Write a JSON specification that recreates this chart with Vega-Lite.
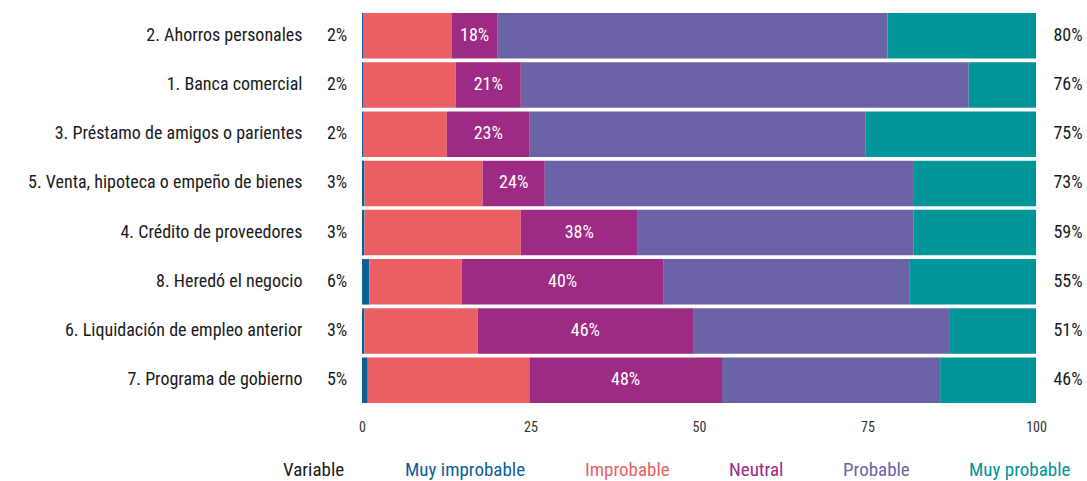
{
  "$schema": "https://vega.github.io/schema/vega-lite/v6.json",
  "autosize": {"type": "none"},
  "width": 674,
  "height": 394,
  "padding": {"left": 362, "top": 11, "right": 51, "bottom": 76},
  "background": "white",
  "config": {
    "view": {"stroke": null},
    "font": "Roboto Condensed, Noto Sans Condensed, Open Sans Condensed, DejaVu Sans Condensed, Liberation Sans Narrow, Liberation Sans"
  },
  "datasets": {
    "shares": [
      {"source": "2. Ahorros personales", "category": "Muy improbable", "rank": 1, "value": 0.25},
      {"source": "2. Ahorros personales", "category": "Improbable", "rank": 2, "value": 13.03},
      {"source": "2. Ahorros personales", "category": "Neutral", "rank": 3, "value": 6.86},
      {"source": "2. Ahorros personales", "category": "Probable", "rank": 4, "value": 57.82},
      {"source": "2. Ahorros personales", "category": "Muy probable", "rank": 5, "value": 22.04},
      {"source": "1. Banca comercial", "category": "Muy improbable", "rank": 1, "value": 0.25},
      {"source": "1. Banca comercial", "category": "Improbable", "rank": 2, "value": 13.64},
      {"source": "1. Banca comercial", "category": "Neutral", "rank": 3, "value": 9.67},
      {"source": "1. Banca comercial", "category": "Probable", "rank": 4, "value": 66.46},
      {"source": "1. Banca comercial", "category": "Muy probable", "rank": 5, "value": 9.98},
      {"source": "3. Préstamo de amigos o parientes", "category": "Muy improbable", "rank": 1, "value": 0.25},
      {"source": "3. Préstamo de amigos o parientes", "category": "Improbable", "rank": 2, "value": 12.32},
      {"source": "3. Préstamo de amigos o parientes", "category": "Neutral", "rank": 3, "value": 12.32},
      {"source": "3. Préstamo de amigos o parientes", "category": "Probable", "rank": 4, "value": 49.86},
      {"source": "3. Préstamo de amigos o parientes", "category": "Muy probable", "rank": 5, "value": 25.25},
      {"source": "5. Venta, hipoteca o empeño de bienes", "category": "Muy improbable", "rank": 1, "value": 0.36},
      {"source": "5. Venta, hipoteca o empeño de bienes", "category": "Improbable", "rank": 2, "value": 17.53},
      {"source": "5. Venta, hipoteca o empeño de bienes", "category": "Neutral", "rank": 3, "value": 9.23},
      {"source": "5. Venta, hipoteca o empeño de bienes", "category": "Probable", "rank": 4, "value": 54.77},
      {"source": "5. Venta, hipoteca o empeño de bienes", "category": "Muy probable", "rank": 5, "value": 18.11},
      {"source": "4. Crédito de proveedores", "category": "Muy improbable", "rank": 1, "value": 0.36},
      {"source": "4. Crédito de proveedores", "category": "Improbable", "rank": 2, "value": 23.2},
      {"source": "4. Crédito de proveedores", "category": "Neutral", "rank": 3, "value": 17.36},
      {"source": "4. Crédito de proveedores", "category": "Probable", "rank": 4, "value": 40.87},
      {"source": "4. Crédito de proveedores", "category": "Muy probable", "rank": 5, "value": 18.21},
      {"source": "8. Heredó el negocio", "category": "Muy improbable", "rank": 1, "value": 1.07},
      {"source": "8. Heredó el negocio", "category": "Improbable", "rank": 2, "value": 13.7},
      {"source": "8. Heredó el negocio", "category": "Neutral", "rank": 3, "value": 30.0},
      {"source": "8. Heredó el negocio", "category": "Probable", "rank": 4, "value": 36.41},
      {"source": "8. Heredó el negocio", "category": "Muy probable", "rank": 5, "value": 18.82},
      {"source": "6. Liquidación de empleo anterior", "category": "Muy improbable", "rank": 1, "value": 0.36},
      {"source": "6. Liquidación de empleo anterior", "category": "Improbable", "rank": 2, "value": 16.81},
      {"source": "6. Liquidación de empleo anterior", "category": "Neutral", "rank": 3, "value": 31.95},
      {"source": "6. Liquidación de empleo anterior", "category": "Probable", "rank": 4, "value": 38.11},
      {"source": "6. Liquidación de empleo anterior", "category": "Muy probable", "rank": 5, "value": 12.77},
      {"source": "7. Programa de gobierno", "category": "Muy improbable", "rank": 1, "value": 0.85},
      {"source": "7. Programa de gobierno", "category": "Improbable", "rank": 2, "value": 23.98},
      {"source": "7. Programa de gobierno", "category": "Neutral", "rank": 3, "value": 28.58},
      {"source": "7. Programa de gobierno", "category": "Probable", "rank": 4, "value": 32.37},
      {"source": "7. Programa de gobierno", "category": "Muy probable", "rank": 5, "value": 14.22}
    ],
    "summary": [
      {"source": "2. Ahorros personales", "low": "2%", "neutral": "18%", "high": "80%"},
      {"source": "1. Banca comercial", "low": "2%", "neutral": "21%", "high": "76%"},
      {"source": "3. Préstamo de amigos o parientes", "low": "2%", "neutral": "23%", "high": "75%"},
      {"source": "5. Venta, hipoteca o empeño de bienes", "low": "3%", "neutral": "24%", "high": "73%"},
      {"source": "4. Crédito de proveedores", "low": "3%", "neutral": "38%", "high": "59%"},
      {"source": "8. Heredó el negocio", "low": "6%", "neutral": "40%", "high": "55%"},
      {"source": "6. Liquidación de empleo anterior", "low": "3%", "neutral": "46%", "high": "51%"},
      {"source": "7. Programa de gobierno", "low": "5%", "neutral": "48%", "high": "46%"}
    ]
  },
  "encoding": {
    "y": {
      "field": "source",
      "type": "nominal",
      "sort": [
        "2. Ahorros personales",
        "1. Banca comercial",
        "3. Préstamo de amigos o parientes",
        "5. Venta, hipoteca o empeño de bienes",
        "4. Crédito de proveedores",
        "8. Heredó el negocio",
        "6. Liquidación de empleo anterior",
        "7. Programa de gobierno"
      ],
      "scale": {"paddingInner": 0.075, "paddingOuter": 0.04},
      "axis": {
        "title": null,
        "domain": false,
        "ticks": false,
        "labelPadding": 60,
        "labelFontSize": 18,
        "labelColor": "#1a1a1a",
        "labelLimit": 400
      }
    }
  },
  "layer": [
    {
      "data": {"name": "shares"},
      "transform": [
        {"stack": "value", "groupby": ["source"], "sort": [{"field": "rank", "order": "ascending"}], "as": ["x0", "x1"]}
      ],
      "mark": {"type": "bar"},
      "encoding": {
        "x": {
          "field": "x0",
          "type": "quantitative",
          "scale": {"domain": [0, 100], "nice": false, "zero": true},
          "axis": {
            "title": null,
            "domain": false,
            "ticks": false,
            "grid": false,
            "values": [0, 25, 50, 75, 100],
            "labelPadding": 15,
            "labelFontSize": 14,
            "labelColor": "#333333",
            "labelFlush": false,
            "labelOverlap": false
          }
        },
        "x2": {"field": "x1"},
        "color": {
          "field": "category",
          "type": "nominal",
          "scale": {
            "domain": ["Muy improbable", "Improbable", "Neutral", "Probable", "Muy probable"],
            "range": ["#0D5F97", "#EB5F63", "#9D2A83", "#6C62A7", "#009598"]
          },
          "legend": {
            "title": "Variable",
            "orient": "none",
            "legendX": -79,
            "legendY": 449,
            "direction": "horizontal",
            "titleOrient": "left",
            "titleFontSize": 19,
            "titleFontWeight": "normal",
            "titleColor": "#1a1a1a",
            "titlePadding": 41,
            "labelFontSize": 19,
            "labelColor": {"expr": "scale('color', datum.value)"},
            "labelOffset": 0,
            "labelLimit": 300,
            "symbolSize": 0,
            "symbolOpacity": 0,
            "symbolStrokeWidth": 0,
            "columnPadding": 40
          }
        }
      }
    },
    {
      "data": {"name": "shares"},
      "transform": [
        {"stack": "value", "groupby": ["source"], "sort": [{"field": "rank", "order": "ascending"}], "as": ["x0", "x1"]},
        {"filter": "datum.category === 'Neutral'"},
        {"lookup": "source", "from": {"data": {"name": "summary"}, "key": "source", "fields": ["neutral"]}},
        {"calculate": "(datum.x0 + datum.x1) / 2", "as": "xmid"}
      ],
      "mark": {"type": "text", "color": "white", "fontSize": 18, "baseline": "middle", "align": "center"},
      "encoding": {
        "x": {"field": "xmid", "type": "quantitative"},
        "text": {"field": "neutral"}
      }
    },
    {
      "data": {"name": "summary"},
      "mark": {"type": "text", "color": "#1a1a1a", "fontSize": 18, "baseline": "middle", "align": "center"},
      "encoding": {
        "x": {"datum": -3.7},
        "text": {"field": "low"}
      }
    },
    {
      "data": {"name": "summary"},
      "mark": {"type": "text", "color": "#1a1a1a", "fontSize": 18, "baseline": "middle", "align": "center"},
      "encoding": {
        "x": {"datum": 104.75},
        "text": {"field": "high"}
      }
    }
  ]
}
